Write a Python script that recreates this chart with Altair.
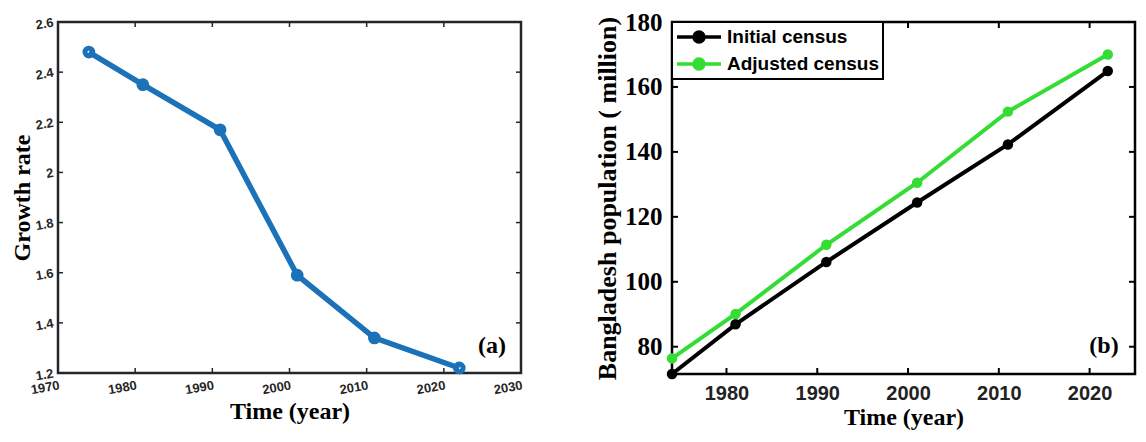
import altair as alt
import pandas as pd

# ---- data ----
years = [1974, 1981, 1991, 2001, 2011, 2022]
growth_rate = [2.48, 2.35, 2.17, 1.59, 1.34, 1.22]
initial_census = [71.6, 86.9, 106.1, 124.4, 142.3, 164.9]
adjusted_census = [76.4, 90.1, 111.4, 130.5, 152.4, 170.0]
series_names = ["Initial census", "Adjusted census"]

left_xticks = [1970, 1980, 1990, 2000, 2010, 2020, 2030]
left_yticks = [1.2, 1.4, 1.6, 1.8, 2.0, 2.2, 2.4, 2.6]
right_xticks = [1980, 1990, 2000, 2010, 2020]
right_yticks = [80, 100, 120, 140, 160, 180]

SERIF = "Liberation Serif"
SANS = "Liberation Sans"
BLUE = "#1b72b8"
GREEN = "#33dd33"

# ---------------- left panel ----------------
LW, LH = 463, 351
df_a = pd.DataFrame({"year": years, "rate": growth_rate})

def lx():
    return alt.X("year:Q", scale=alt.Scale(domain=[1970, 2030], nice=False, zero=False),
                 axis=alt.Axis(values=left_xticks, format="d", title="Time (year)",
                               labelAngle=350, labelAlign="right", labelBaseline="top",
                               labelPadding=6, labelFont=SANS, labelFontSize=13,
                               labelFontWeight="bold", labelColor="#262626",
                               titleFont=SERIF, titleFontSize=24, titleFontWeight="bold",
                               titleColor="black", titlePadding=3, tickSize=0,
                               domain=False, grid=False))

def ly():
    return alt.Y("rate:Q", scale=alt.Scale(domain=[1.2, 2.6], nice=False, zero=False),
                 axis=alt.Axis(values=left_yticks, title="Growth rate",
                               labelExpr="datum.value == 2 ? '2' : format(datum.value, '.1f')",
                               labelAngle=350, labelAlign="right", labelBaseline="middle",
                               labelPadding=5, labelFont=SANS, labelFontSize=13,
                               labelFontWeight="bold", labelColor="#262626",
                               titleFont=SERIF, titleFontSize=24, titleFontWeight="bold",
                               titleColor="black", titlePadding=0, tickSize=0,
                               domain=False, grid=False))

line_a = alt.Chart(df_a).mark_line(color=BLUE, strokeWidth=5.5).encode(x=lx(), y=ly())
pts_a = alt.Chart(df_a).mark_point(color=BLUE, filled=False, size=60, strokeWidth=5, opacity=1).encode(x=lx(), y=ly())

tx_a = pd.DataFrame({"year": left_xticks[1:-1]})
ty_a = pd.DataFrame({"rate": left_yticks[1:-1]})
tick_style = dict(color="#262626", strokeWidth=1.5)
xt_a_bot = alt.Chart(tx_a).mark_rule(**tick_style).encode(x=lx(), y=alt.value(LH), y2=alt.value(LH - 5))
xt_a_top = alt.Chart(tx_a).mark_rule(**tick_style).encode(x=lx(), y=alt.value(0), y2=alt.value(5))
yt_a_l = alt.Chart(ty_a).mark_rule(**tick_style).encode(y=ly(), x=alt.value(0), x2=alt.value(5))
yt_a_r = alt.Chart(ty_a).mark_rule(**tick_style).encode(y=ly(), x=alt.value(LW), x2=alt.value(LW - 5))
lab_a = alt.Chart(pd.DataFrame({"t": ["(a)"]})).mark_text(
    font=SERIF, fontSize=24, fontWeight="bold", color="black", align="center", baseline="middle"
).encode(text="t:N", x=alt.value(434), y=alt.value(LH - 27))

left = alt.layer(line_a, pts_a, xt_a_bot, xt_a_top, yt_a_l, yt_a_r, lab_a).properties(
    width=LW, height=LH, view=alt.ViewBackground(stroke="#262626", strokeWidth=2.5)
)

# ---------------- right panel ----------------
RW, RH = 463, 352
df_b = pd.DataFrame({
    "year": years * 2,
    "pop": initial_census + adjusted_census,
    "series": [series_names[0]] * len(years) + [series_names[1]] * len(years),
})

def rx():
    return alt.X("year:Q", scale=alt.Scale(domain=[1974, 2025], nice=False, zero=False),
                 axis=alt.Axis(values=right_xticks, format="d", title="Time (year)",
                               labelPadding=9, labelFont=SANS, labelFontSize=20,
                               labelFontWeight="bold", labelColor="#222222",
                               titleFont=SERIF, titleFontSize=24, titleFontWeight="bold",
                               titleColor="black", titlePadding=2, tickSize=0,
                               domain=False, grid=False))

def ry():
    return alt.Y("pop:Q", scale=alt.Scale(domain=[71.6, 180], nice=False, zero=False),
                 axis=alt.Axis(values=right_yticks, title="Bangladesh population ( million)",
                               labelPadding=10, labelFont=SERIF, labelFontSize=25,
                               labelFontWeight="bold", labelColor="black",
                               titleFont=SERIF, titleFontSize=26, titleFontWeight="bold",
                               titleColor="black", titlePadding=4, tickSize=0,
                               domain=False, grid=False))

color_b = alt.Color("series:N", scale=alt.Scale(domain=series_names, range=["black", GREEN]),
                    legend=alt.Legend(title=None, orient="none", legendX=0, legendY=0,
                                      direction="vertical",
                                      symbolType="M-1,0H3.4M0.7,0A0.5,0.5 0 1,0 1.7,0A0.5,0.5 0 1,0 0.7,0",
                                      symbolSize=400, symbolStrokeWidth=3.5,
                                      labelFont=SANS, labelFontSize=19, labelFontWeight="bold",
                                      labelColor="black", labelOffset=28, rowPadding=3,
                                      padding=3, strokeColor="black",
                                      fillColor="white", labelLimit=300))

line_b = alt.Chart(df_b).mark_line(strokeWidth=4).encode(x=rx(), y=ry(), color=color_b)
pts_b = alt.Chart(df_b).mark_point(filled=True, size=110, opacity=1).encode(x=rx(), y=ry(), color=color_b)

tx_b = pd.DataFrame({"year": right_xticks})
ty_b = pd.DataFrame({"pop": right_yticks[:-1]})
tick_b = dict(color="black", strokeWidth=2)
xt_b_bot = alt.Chart(tx_b).mark_rule(**tick_b).encode(x=rx(), y=alt.value(RH), y2=alt.value(RH - 6))
xt_b_top = alt.Chart(tx_b).mark_rule(**tick_b).encode(x=rx(), y=alt.value(0), y2=alt.value(6))
yt_b_l = alt.Chart(ty_b).mark_rule(**tick_b).encode(y=ry(), x=alt.value(0), x2=alt.value(6))
yt_b_r = alt.Chart(ty_b).mark_rule(**tick_b).encode(y=ry(), x=alt.value(RW), x2=alt.value(RW - 6))
lab_b = alt.Chart(pd.DataFrame({"t": ["(b)"]})).mark_text(
    font=SERIF, fontSize=24, fontWeight="bold", color="black", align="center", baseline="middle"
).encode(text="t:N", x=alt.value(432), y=alt.value(RH - 28))

right = alt.layer(line_b, pts_b, xt_b_bot, xt_b_top, yt_b_l, yt_b_r, lab_b).properties(
    width=RW, height=RH, view=alt.ViewBackground(stroke="black", strokeWidth=2.5)
)

chart = (
    alt.hconcat(left, right, spacing=68)
    .resolve_legend(color="independent")
    .properties(padding=0)
    .configure(background="white")
    .configure_legend(strokeWidth=2)
)

chart.save("out.html", embed_options={"renderer": "svg", "actions": False})
